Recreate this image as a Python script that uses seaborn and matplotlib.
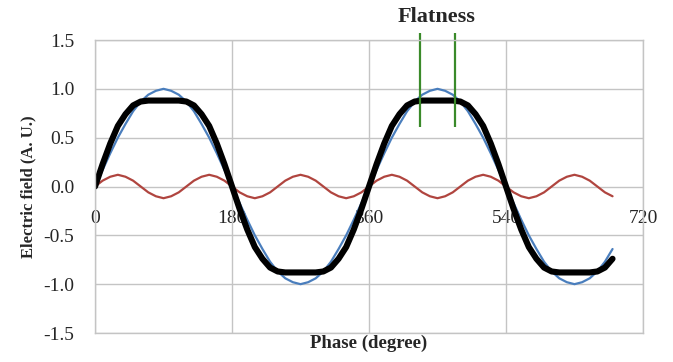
import pandas as pd
import matplotlib
matplotlib.use("Agg")
import matplotlib.pyplot as plt
import seaborn as sns

# =========================================================
# Data (10 degree steps, 0..680)
# =========================================================
phase = list(range(0, 690, 10))

fundamental = [
    0.00, 0.17, 0.34, 0.50, 0.64, 0.77, 0.87, 0.94, 0.98, 1.00,
    0.98, 0.94, 0.87, 0.77, 0.64, 0.50, 0.34, 0.17, 0.00,
    -0.17, -0.34, -0.50, -0.64, -0.77, -0.87, -0.94, -0.98, -1.00,
    -0.98, -0.94, -0.87, -0.77, -0.64, -0.50, -0.34, -0.17,
    0.00, 0.17, 0.34, 0.50, 0.64, 0.77, 0.87, 0.94, 0.98, 1.00,
    0.98, 0.94, 0.87, 0.77, 0.64, 0.50, 0.34, 0.17, 0.00,
    -0.17, -0.34, -0.50, -0.64, -0.77, -0.87, -0.94, -0.98, -1.00,
    -0.98, -0.94, -0.87, -0.77, -0.64,
]

third_harmonic = [
    0.00, 0.06, 0.10, 0.12, 0.10, 0.06, 0.00, -0.06, -0.10, -0.12, -0.10, -0.06,
    0.00, 0.06, 0.10, 0.12, 0.10, 0.06, 0.00, -0.06, -0.10, -0.12, -0.10, -0.06,
    0.00, 0.06, 0.10, 0.12, 0.10, 0.06, 0.00, -0.06, -0.10, -0.12, -0.10, -0.06,
    0.00, 0.06, 0.10, 0.12, 0.10, 0.06, 0.00, -0.06, -0.10, -0.12, -0.10, -0.06,
    0.00, 0.06, 0.10, 0.12, 0.10, 0.06, 0.00, -0.06, -0.10, -0.12, -0.10, -0.06,
    0.00, 0.06, 0.10, 0.12, 0.10, 0.06, 0.00, -0.06, -0.10,
]

flattened = [
    0.00, 0.23, 0.44, 0.62, 0.74, 0.83, 0.87, 0.88, 0.88, 0.88,
    0.88, 0.88, 0.87, 0.83, 0.74, 0.62, 0.44, 0.23, 0.00,
    -0.23, -0.44, -0.62, -0.74, -0.83, -0.87, -0.88, -0.88, -0.88,
    -0.88, -0.88, -0.87, -0.83, -0.74, -0.62, -0.44, -0.23,
    0.00, 0.23, 0.44, 0.62, 0.74, 0.83, 0.87, 0.88, 0.88, 0.88,
    0.88, 0.88, 0.87, 0.83, 0.74, 0.62, 0.44, 0.23, 0.00,
    -0.23, -0.44, -0.62, -0.74, -0.83, -0.87, -0.88, -0.88, -0.88,
    -0.88, -0.88, -0.87, -0.83, -0.74,
]

x_ticks = [0, 180, 360, 540, 720]
y_ticks = [-1.5, -1.0, -0.5, 0.0, 0.5, 1.0, 1.5]
flat_x = [427, 473]
flat_y = [0.61, 1.57]

GRID = "#c4c4c4"

# =========================================================
# Plot
# =========================================================
sns.set_theme(style="whitegrid")
plt.rcParams["font.family"] = ["Liberation Serif", "DejaVu Serif"]

df = pd.DataFrame({
    "phase": phase,
    "fundamental": fundamental,
    "harmonic": third_harmonic,
    "flattened": flattened,
})

fig = plt.figure(figsize=(6.73, 3.62), dpi=100)
ax = fig.add_axes([0.1412, 0.0801, 0.8142, 0.8094])

sns.lineplot(data=df, x="phase", y="fundamental", color="#4a7ebd", lw=1.6, ax=ax)
sns.lineplot(data=df, x="phase", y="harmonic", color="#b0453f", lw=1.6, ax=ax)
sns.lineplot(data=df, x="phase", y="flattened", color="black", lw=4.4, ax=ax,
             solid_capstyle="round", solid_joinstyle="round")

ax.vlines(flat_x, flat_y[0], flat_y[1], colors="#3a8a2a", lw=1.6, clip_on=False)
ax.text(sum(flat_x) / 2 - 1, 1.74, "Flatness", ha="center", va="center",
        fontsize=16, fontweight="bold")

ax.set_xlim(0, 720)
ax.set_ylim(-1.5, 1.5)
ax.set_yticks(y_ticks)
ax.set_yticklabels([f"{v:.1f}" for v in y_ticks], fontsize=14)
ax.set_xticks(x_ticks)
ax.tick_params(axis="x", labelbottom=False, length=0)
ax.tick_params(axis="y", length=0, pad=15)
ax.grid(True, color=GRID, lw=1)
for s in ax.spines.values():
    s.set_color(GRID)
    s.set_linewidth(1)

# tick labels sit just below the zero line, like the Excel axis
sec = ax.secondary_xaxis(0.5)
sec.xaxis.set_ticks_position("bottom")
sec.set_xticks(x_ticks)
sec.set_xticklabels([str(v) for v in x_ticks], fontsize=14)
sec.tick_params(length=0, pad=17)
for s in sec.spines.values():
    s.set_visible(False)

ax.set_xlabel("Phase (degree)", fontsize=13.5, fontweight="bold", labelpad=1)
ax.set_ylabel("Electric field (A. U.)", fontsize=12, fontweight="bold", labelpad=5)

fig.savefig("out.png", dpi=100)
